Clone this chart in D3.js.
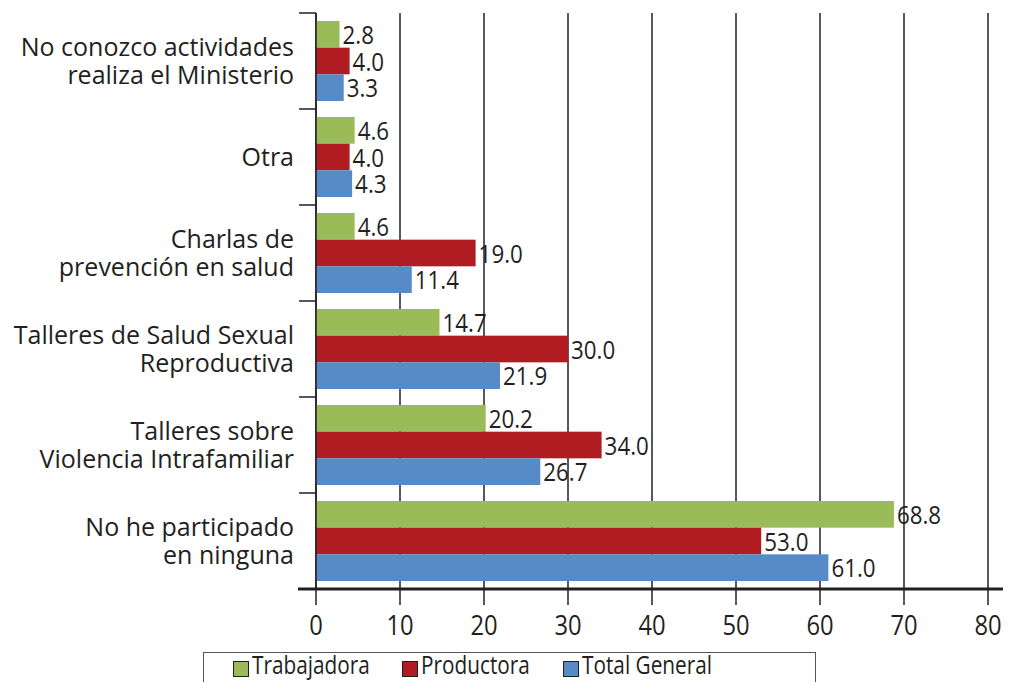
<!DOCTYPE html>
<html>
<head>
<meta charset="utf-8">
<script src="https://cdn.jsdelivr.net/npm/d3@7"></script>
<style>
  body { margin: 0; background: #fff; }
  text { font-family: "Open Sans", sans-serif; fill: #231f20; }
</style>
</head>
<body>
<div id="chart"></div>
<script>
(function(){
const categories = [
    ["No conozco actividades", "realiza el Ministerio"],
    ["Otra"],
    ["Charlas de", "prevención en salud"],
    ["Talleres de Salud Sexual", "Reproductiva"],
    ["Talleres sobre", "Violencia Intrafamiliar"],
    ["No he participado", "en ninguna"]
];
const seriesNames = ["Trabajadora", "Productora", "Total General"];
const trabajadora = [2.8, 4.6, 4.6, 14.7, 20.2, 68.8];
const productora = [4.0, 4.0, 19.0, 30.0, 34.0, 53.0];
const totalGeneral = [3.3, 4.3, 11.4, 21.9, 26.7, 61.0];
const xTicks = [0, 10, 20, 30, 40, 50, 60, 70, 80];
const colors = ["#9bbb59", "#b01c22", "#568bc8"];

const series = [trabajadora, productora, totalGeneral];

const width = 1011, height = 682;
const left = 316, right = 988, top = 13, bottom = 589;

const svg = d3.select("#chart").append("svg")
    .attr("width", width)
    .attr("height", height);

const x = d3.scaleLinear().domain([0, 80]).range([left, right]);
const y = d3.scaleBand().domain(d3.range(categories.length)).range([top, bottom]);
const yInner = d3.scaleBand().domain(d3.range(series.length))
    .range([0, y.bandwidth()]).paddingOuter(0.3);

// text helper: the original font is narrower, so squeeze horizontally
function label(parent, tx, ty, str, size, sx, anchor) {
    return parent.append("text")
        .attr("transform", "translate(" + tx + "," + ty + ") scale(" + sx + ",1)")
        .attr("text-anchor", anchor || "start")
        .style("font-size", size + "px")
        .text(str);
}

// vertical grid lines (with ticks below the axis)
svg.selectAll("line.grid")
    .data(xTicks)
    .enter().append("line")
    .attr("x1", d => x(d)).attr("x2", d => x(d))
    .attr("y1", top).attr("y2", bottom + 16)
    .attr("stroke", "#231f20")
    .attr("stroke-width", 1.5);

// bars
const groups = svg.selectAll("g.cat")
    .data(categories)
    .enter().append("g")
    .attr("transform", (d, i) => "translate(0," + y(i) + ")");

groups.each(function(c, ci) {
    const g = d3.select(this);
    series.forEach(function(s, si) {
        g.append("rect")
            .attr("x", x(0))
            .attr("y", yInner(si))
            .attr("width", x(s[ci]) - x(0))
            .attr("height", yInner.bandwidth())
            .attr("fill", colors[si]);
        label(g, x(s[ci]) + 3, yInner(si) + yInner.bandwidth() / 2 + 9.5,
            s[ci].toFixed(1), 26, 0.86);
    });
    const lh = 28;
    const y0 = y.bandwidth() / 2 - (c.length - 1) * lh / 2 + 9;
    c.forEach(function(t, li) {
        label(g, 294, y0 + li * lh, t, 25, 1, "end");
    });
});

// left axis line and category ticks
svg.append("line")
    .attr("x1", left).attr("x2", left)
    .attr("y1", top).attr("y2", bottom)
    .attr("stroke", "#231f20").attr("stroke-width", 1.5);
svg.selectAll("line.ctick")
    .data(d3.range(categories.length + 1))
    .enter().append("line")
    .attr("x1", 299).attr("x2", left)
    .attr("y1", d => top + d * y.step())
    .attr("y2", d => top + d * y.step())
    .attr("stroke", "#231f20").attr("stroke-width", 1.5);

// baseline
svg.append("line")
    .attr("x1", 298).attr("x2", 1003)
    .attr("y1", bottom).attr("y2", bottom)
    .attr("stroke", "#231f20").attr("stroke-width", 3);

// x tick labels
xTicks.forEach(function(t) {
    label(svg, x(t), 635, t, 27, 0.88, "middle");
});

// legend
const legend = svg.append("g");
legend.append("rect")
    .attr("x", 203.5).attr("y", 652.5)
    .attr("width", 612).attr("height", 40)
    .attr("fill", "none").attr("stroke", "#555").attr("stroke-width", 1);
const legendX = [233, 402, 563];
seriesNames.forEach(function(n, i) {
    legend.append("rect")
        .attr("x", legendX[i] + 0.5).attr("y", 661.5)
        .attr("width", 15).attr("height", 15)
        .attr("fill", colors[i]).attr("stroke", "#231f20").attr("stroke-width", 1);
    label(legend, legendX[i] + 19, 674, n, 26, 0.8);
});
})();
</script>
</body>
</html>
